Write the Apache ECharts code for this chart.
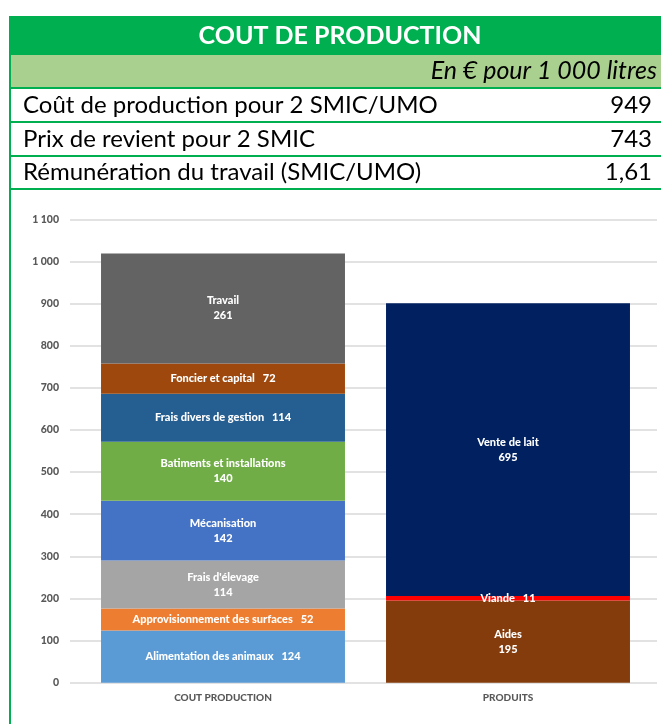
<!DOCTYPE html>
<html>
<head>
<meta charset="utf-8">
<script src="https://cdn.jsdelivr.net/npm/echarts@6/dist/echarts.min.js"></script>
<style>
html,body{margin:0;padding:0;background:#fff;}
#chart{width:661px;height:724px;}
</style>
</head>
<body>
<div id="chart"></div>
<script>
// ---- Data ----
const titleText = 'COUT DE PRODUCTION';
const unitText = 'En € pour 1 000 litres';
const tableLabels = ['Coût de production pour 2 SMIC/UMO', 'Prix de revient pour 2 SMIC', 'Rémunération du travail (SMIC/UMO)'];
const tableValues = ['949', '743', '1,61'];

const categories = ['COUT PRODUCTION', 'PRODUITS'];

const costNames = ['Alimentation des animaux', 'Approvisionnement des surfaces', "Frais d'élevage", 'Mécanisation', 'Batiments et installations', 'Frais divers de gestion', 'Foncier et capital', 'Travail'];
const costValues = [124, 52, 114, 142, 140, 114, 72, 261];

const productNames = ['Aides', 'Viande', 'Vente de lait'];
const productValues = [195, 11, 695];

const yTicks = [0, 100, 200, 300, 400, 500, 600, 700, 800, 900, 1000, 1100];

// ---- Styles ----
const costColors = ['#5B9BD5', '#ED7D31', '#A5A5A5', '#4472C4', '#70AD47', '#255E91', '#9E480E', '#636363'];
const productColors = ['#843C0C', '#FF0000', '#002060'];
const inlineLabels = ['Alimentation des animaux', 'Approvisionnement des surfaces', 'Frais divers de gestion', 'Foncier et capital', 'Viande'];

const FONT = 'Lato, "Open Sans", sans-serif';
const GREEN = '#00B050';

const chart = echarts.init(document.getElementById('chart'), null, {renderer: 'canvas'});

function fmtThousands(v) {
  return String(v).replace(/\B(?=(\d{3})+(?!\d))/g, ' ');
}

function makeSeries(names, values, colors, catIndex) {
  return names.map((n, i) => {
    const data = categories.map((c, k) => (k === catIndex ? values[i] : '-'));
    return {
      name: n,
      type: 'bar',
      stack: 'total',
      xAxisIndex: 1,
      yAxisIndex: 1,
      barCategoryGap: '14.4%',
      itemStyle: {color: colors[i]},
      data: data,
      label: {
        show: true,
        position: 'inside',
        color: '#fff',
        fontFamily: FONT,
        fontWeight: 900,
        fontSize: 11,
        lineHeight: 15,
        formatter: (p) => inlineLabels.includes(n) ? (n + '   ' + p.value) : (n + '\n' + p.value)
      }
    };
  });
}

const series = [].concat(
  makeSeries(costNames, costValues, costColors, 0),
  makeSeries(productNames, productValues, productColors, 1)
);

const graphics = [
  {type: 'rect', shape: {x: 9, y: 16, width: 652, height: 39}, style: {fill: GREEN}, silent: true},
  {type: 'rect', shape: {x: 11, y: 55, width: 650, height: 32}, style: {fill: '#A9D08E'}, silent: true},
  {type: 'rect', shape: {x: 9, y: 16, width: 2, height: 708}, style: {fill: GREEN}, silent: true},
  {type: 'rect', shape: {x: 11, y: 87, width: 650, height: 2}, style: {fill: GREEN}, silent: true},
  {type: 'rect', shape: {x: 11, y: 121, width: 650, height: 2}, style: {fill: GREEN}, silent: true},
  {type: 'rect', shape: {x: 11, y: 155, width: 650, height: 2}, style: {fill: GREEN}, silent: true},
  {type: 'rect', shape: {x: 11, y: 188, width: 650, height: 2}, style: {fill: GREEN}, silent: true},
  {type: 'text', x: 340, y: 36, style: {text: titleText, fill: '#fff', font: 'bold 25px ' + FONT, textAlign: 'center', textVerticalAlign: 'middle'}, silent: true},
  {type: 'text', x: 657, y: 71, style: {text: unitText, fill: '#000', font: 'italic 25px ' + FONT, textAlign: 'right', textVerticalAlign: 'middle'}, silent: true}
];
const rowY = [105, 139, 172];
tableLabels.forEach((t, i) => {
  graphics.push({type: 'text', x: 23, y: rowY[i], style: {text: t, fill: '#000', font: '24px ' + FONT, textAlign: 'left', textVerticalAlign: 'middle'}, silent: true});
  graphics.push({type: 'text', x: 652, y: rowY[i], style: {text: tableValues[i], fill: '#000', font: '24px ' + FONT, textAlign: 'right', textVerticalAlign: 'middle'}, silent: true});
});

const option = {
  backgroundColor: '#fff',
  animation: false,
  textStyle: {fontFamily: FONT},
  grid: [
    {left: 70, top: 219.3, width: 587, height: 463.4},
    {left: 80.5, top: 219.3, width: 570, height: 463.4}
  ],
  xAxis: [
    {gridIndex: 0, type: 'value', show: false},
    {
      gridIndex: 1, type: 'category', data: categories,
      axisLine: {show: false}, axisTick: {show: false},
      axisLabel: {color: '#595959', fontWeight: 900, fontSize: 10, fontFamily: FONT, margin: 10}
    }
  ],
  yAxis: [
    {
      gridIndex: 0, type: 'value', min: yTicks[0], max: yTicks[yTicks.length - 1], interval: 100,
      axisLine: {show: false}, axisTick: {show: false},
      splitLine: {lineStyle: {color: '#D9D9D9', width: 1.5}},
      axisLabel: {color: '#595959', fontWeight: 900, fontSize: 10.5, fontFamily: FONT, margin: 11, formatter: fmtThousands}
    },
    {
      gridIndex: 1, type: 'value', min: yTicks[0], max: yTicks[yTicks.length - 1], interval: 100,
      show: false, splitLine: {show: false}
    }
  ],
  series: series,
  graphic: graphics
};
chart.setOption(option);
</script>
</body>
</html>
